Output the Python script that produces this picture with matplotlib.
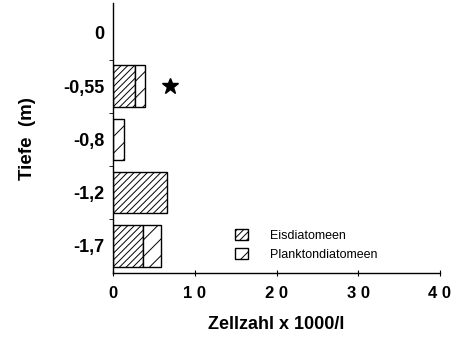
import matplotlib
matplotlib.use("Agg")
import matplotlib.pyplot as plt
from matplotlib.patches import Patch
import numpy as np

# Zellzahlen (x 1000 pro Liter) je Tiefe
tiefen = ["0", "-0,55", "-0,8", "-1,2", "-1,7"]
eis = [0, 2.7, 0, 6.6, 3.7]
plankton = [0, 1.2, 1.35, 0, 2.2]
x_ticks = [0, 10, 20, 30, 40]
x_ticklabels = ["0", "1 0", "2 0", "3 0", "4 0"]
stern_x = 7.0  # Markierung bei -0,55 m

plt.rcParams['font.family'] = ['Liberation Sans', 'DejaVu Sans']
plt.rcParams['hatch.linewidth'] = 0.7

fig = plt.figure(figsize=(4.62, 3.51), dpi=100)
ax = fig.add_axes([0.245, 0.222, 0.707, 0.769])

pos = np.arange(len(tiefen))
eis = np.array(eis)
plankton = np.array(plankton)
h = 0.78
m = eis > 0
ax.barh(pos[m], eis[m], height=h, color='white', edgecolor='black', hatch='/////', linewidth=1.0)
m = plankton > 0
ax.barh(pos[m], plankton[m], left=eis[m], height=h, color='white', edgecolor='black', hatch='//', linewidth=1.0)

ax.plot(stern_x, pos[1], marker='*', color='black', markersize=12)

ax.set_xlim(0, 40)
ax.set_ylim(4.51, -0.56)

for s in ['top', 'right']:
    ax.spines[s].set_visible(False)
ax.spines['left'].set_linewidth(1.0)
ax.spines['bottom'].set_linewidth(1.0)

ax.set_yticks(pos)
ax.set_yticklabels(tiefen, fontsize=13, fontweight='bold')
ax.tick_params(axis='y', length=0, pad=6)
ax.set_yticks(pos[:-1] + 0.5, minor=True)
ax.tick_params(axis='y', which='minor', length=3, direction='out')

ax.set_xticks(x_ticks)
ax.set_xticklabels(x_ticklabels, fontsize=12, fontweight='bold')
ax.tick_params(axis='x', length=4, direction='inout', pad=7)

ax.set_xlabel("Zellzahl x 1000/l", fontsize=13, fontweight='bold', labelpad=11)
ax.set_ylabel("Tiefe  (m)", fontsize=13.5, fontweight='bold', labelpad=20)

handles = [Patch(facecolor='white', edgecolor='black', hatch='/////', label='Eisdiatomeen'),
           Patch(facecolor='white', edgecolor='black', hatch='//', label='Planktondiatomeen')]
ax.legend(handles=handles, loc='upper left', bbox_to_anchor=(0.34, 0.205), frameon=False,
          fontsize=9, handlelength=1.0, handleheight=1.0, handletextpad=1.8, labelspacing=0.5)

fig.savefig("out.png", dpi=100)
